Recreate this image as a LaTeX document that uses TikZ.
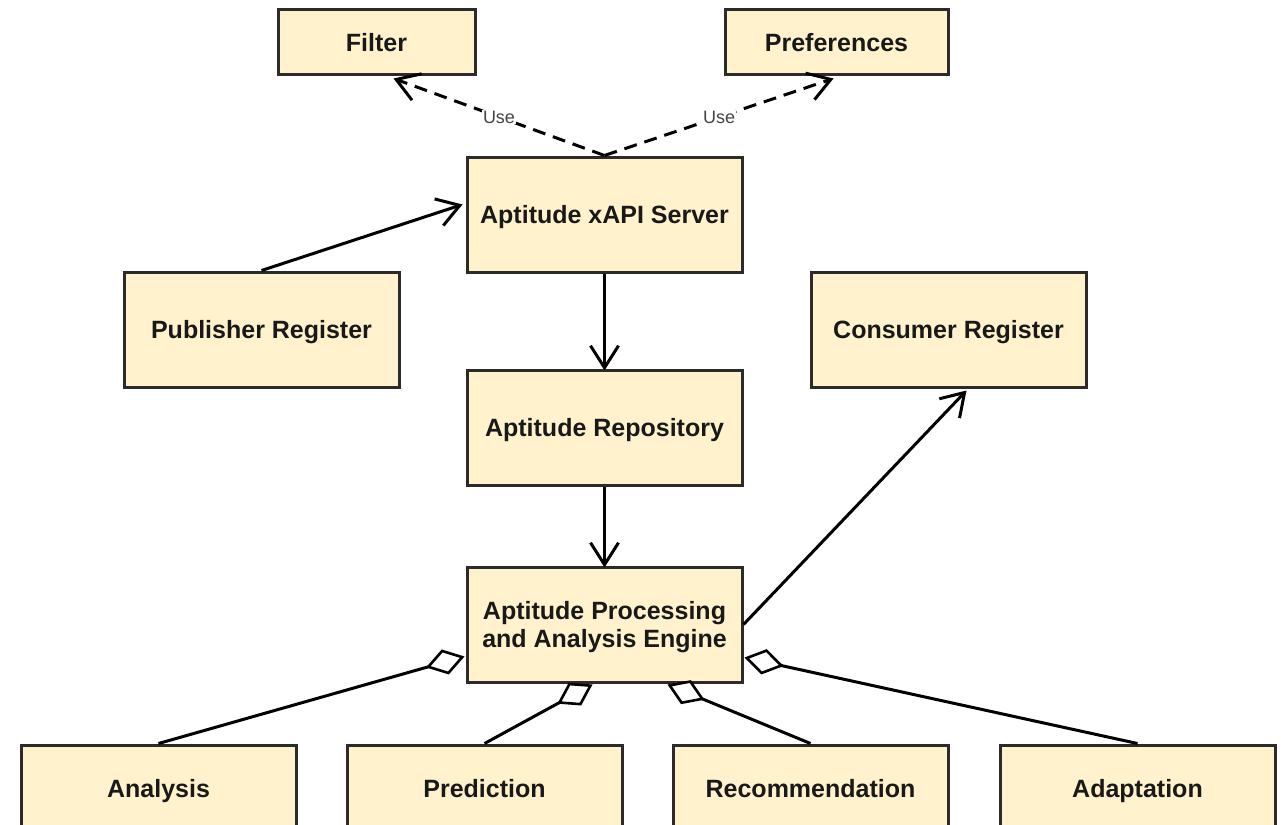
\documentclass[tikz,border=0pt]{standalone}
\usepackage{fontspec}
\setmainfont{Liberation Sans}
\usetikzlibrary{arrows.meta}
\definecolor{boxfill}{HTML}{FFF2CC}
\definecolor{boxline}{HTML}{2B2B2B}
\definecolor{labelgray}{HTML}{444444}
\tikzset{
  comp/.style={draw=boxline, fill=boxfill, line width=3pt,
    minimum width=275pt, minimum height=115pt, align=center,
    font=\fontsize{25}{28}\selectfont\bfseries, text=black!90,
    text height=22pt, text depth=4pt},
  smallcomp/.style={comp, minimum height=65pt},
  conn/.style={line width=3pt, draw=black},
  barb/.style={-{Straight Barb[length=22pt,width=28pt,line width=3pt]}},
  dep/.style={conn, barb, dash pattern=on 13pt off 8pt},
  flow/.style={conn, barb},
  agg/.style={conn, {Diamond[length=40pt,width=26pt,fill=white,line width=2.6pt]}-},
  uselabel/.style={fill=white, inner sep=1pt, text=labelgray,
    font=\fontsize{18}{20}\selectfont},
}
\begin{document}
\begin{tikzpicture}[x=1pt,y=-1pt]
\useasboundingbox (0,0) rectangle (1281,824);
\clip (0,0) rectangle (1281,824);

% top row
\node[smallcomp, minimum width=197pt] (filter) at (376.5,42.5) {Filter};
\node[smallcomp, minimum width=223pt] (prefs) at (836.5,42.5) {Preferences};

% central column
\node[comp] (server) at (604.5,214.5) {Aptitude xAPI Server};
\node[comp] (repo) at (604.5,427.5) {Aptitude Repository};
\node[comp, text height=50pt] (engine) at (604.5,624.5) {Aptitude Processing\\and Analysis Engine};

% registers
\node[comp] (publisher) at (261.5,329.5) {Publisher Register};
\node[comp] (consumer) at (948.5,329.5) {Consumer Register};

% bottom row
\node[comp, minimum height=86pt] (analysis) at (158.5,788) {Analysis};
\node[comp, minimum height=86pt] (prediction) at (484.5,788) {Prediction};
\node[comp, minimum height=86pt] (recommend) at (810.5,788) {Recommendation};
\node[comp, minimum height=86pt] (adapt) at (1137.5,788) {Adaptation};

% usage dependencies
\draw[dep] (server.north) -- node[uselabel, pos=0.5] {Use} ([xshift=17pt,yshift=-2pt]filter.south);
\draw[dep] (server.north) -- node[uselabel, pos=0.5] {Use} ([xshift=-3pt,yshift=-2pt]prefs.south);

% data flow
\draw[flow] (publisher.north) -- ([yshift=10pt,xshift=-3pt]server.west);
\draw[flow] (server.south) -- ([yshift=-2pt]repo.north);
\draw[flow] (repo.south) -- ([yshift=-2pt]engine.north);
\draw[flow] (engine.east) -- ([xshift=18pt,yshift=-2pt]consumer.south);

% aggregated modules
\draw[agg] ([yshift=-32pt,xshift=-1pt]engine.west) -- (analysis.north);
\draw[agg] ([xshift=-12pt,yshift=-1pt]engine.south) -- (prediction.north);
\draw[agg] ([xshift=63pt,yshift=-1pt]engine.south) -- (recommend.north);
\draw[agg] ([yshift=-33pt,xshift=1pt]engine.east) -- (adapt.north);
\end{tikzpicture}
\end{document}
